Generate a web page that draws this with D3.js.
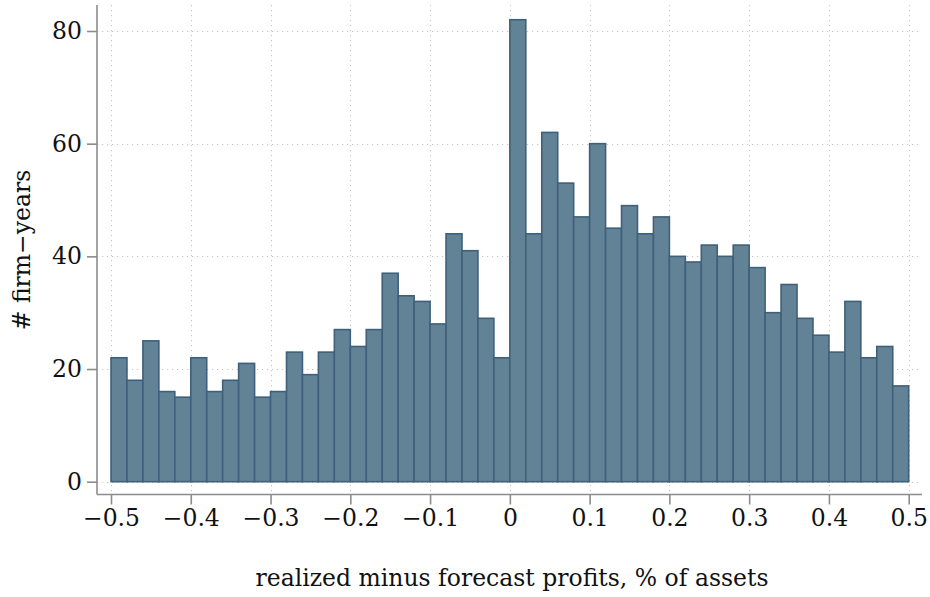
<!DOCTYPE html>
<html>
<head>
<meta charset="utf-8">
<script src="https://cdn.jsdelivr.net/npm/d3@7"></script>
<style>
  html, body { margin: 0; padding: 0; background: #fff; }
  svg { display: block; }
  text { font-family: "DejaVu Serif", "Liberation Serif", serif; fill: #111; }
</style>
</head>
<body>
<svg id="chart" width="930" height="597"></svg>
<script>
// Histogram of realized minus forecast profits: 50 bins of width 0.02 from -0.5 to 0.5
const binStart = -0.5;
const binWidth = 0.02;
const counts = [
  22, 18, 25, 16, 15, 22, 16, 18, 21, 15,
  16, 23, 19, 23, 27, 24, 27, 37, 33, 32,
  28, 44, 41, 29, 22, 82, 44, 62, 53, 47,
  60, 45, 49, 44, 47, 40, 39, 42, 40, 42,
  38, 30, 35, 29, 26, 23, 32, 22, 24, 17
];
const xTicks = [-0.5, -0.4, -0.3, -0.2, -0.1, 0, 0.1, 0.2, 0.3, 0.4, 0.5];
const yTicks = [0, 20, 40, 60, 80];
const xTitle = "realized minus forecast profits, % of assets";
const yTitle = "# firm\u2212years";

const bins = counts.map((c, i) => ({
  x0: binStart + i * binWidth,
  x1: binStart + (i + 1) * binWidth,
  count: c
}));

const svg = d3.select("#chart");

const x = d3.scaleLinear().domain([-0.5, 0.5]).range([111, 908.7]);
const y = d3.scaleLinear().domain([0, 80]).range([481.7, 31]);

const plotLeft = 97, plotRight = 922, plotTop = 5, plotBottom = 494.5;
const fontSize = 23.5;

const fmt = v => (v < 0 ? "\u2212" : "") + (v === 0 ? "0" : String(Math.abs(v)));

// dotted grid
const grid = svg.append("g").attr("stroke", "#c4c4c4").attr("stroke-width", 1)
  .attr("stroke-dasharray", "1.2,3.8");
grid.selectAll("line.h").data(yTicks).join("line")
  .attr("x1", plotLeft).attr("x2", plotRight)
  .attr("y1", d => Math.round(y(d)) + 0.5).attr("y2", d => Math.round(y(d)) + 0.5);
grid.selectAll("line.v").data(xTicks).join("line")
  .attr("y1", plotTop).attr("y2", plotBottom - 2)
  .attr("x1", d => Math.round(x(d)) + 0.5).attr("x2", d => Math.round(x(d)) + 0.5);

// bars
svg.append("g").selectAll("rect").data(bins).join("rect")
  .attr("x", d => x(d.x0))
  .attr("width", d => x(d.x1) - x(d.x0))
  .attr("y", d => y(d.count))
  .attr("height", d => y(0) - y(d.count))
  .attr("fill", "#628296")
  .attr("stroke", "#3f607a")
  .attr("stroke-width", 1.6);

// axes
const yAxis = d3.axisLeft(y).tickValues(yTicks).tickSize(10).tickPadding(5).tickFormat(fmt);
const xAxis = d3.axisBottom(x).tickValues(xTicks).tickSize(10).tickPadding(5).tickFormat(fmt);

const gy = svg.append("g").attr("transform", `translate(${plotLeft},0)`).call(yAxis);
gy.select(".domain").attr("d", `M0,${plotTop}V${plotBottom}`);
const gx = svg.append("g").attr("transform", `translate(0,${plotBottom})`).call(xAxis);
gx.select(".domain").attr("d", `M${plotLeft},0H${plotRight}`);

[gx, gy].forEach(g => {
  g.select(".domain").attr("stroke", "#8c8c8c").attr("stroke-width", 1.6);
  g.selectAll(".tick line").attr("stroke", "#8c8c8c").attr("stroke-width", 1.6);
  g.selectAll(".tick text").attr("font-size", fontSize).attr("fill", "#111")
    .attr("font-family", "'DejaVu Serif', serif");
});

// titles
svg.append("text").attr("x", 512).attr("y", 586).attr("text-anchor", "middle")
  .attr("font-size", fontSize).text(xTitle);
svg.append("text").attr("transform", "translate(30,250) rotate(-90)")
  .attr("text-anchor", "middle").attr("font-size", fontSize).text(yTitle);
</script>
</body>
</html>
